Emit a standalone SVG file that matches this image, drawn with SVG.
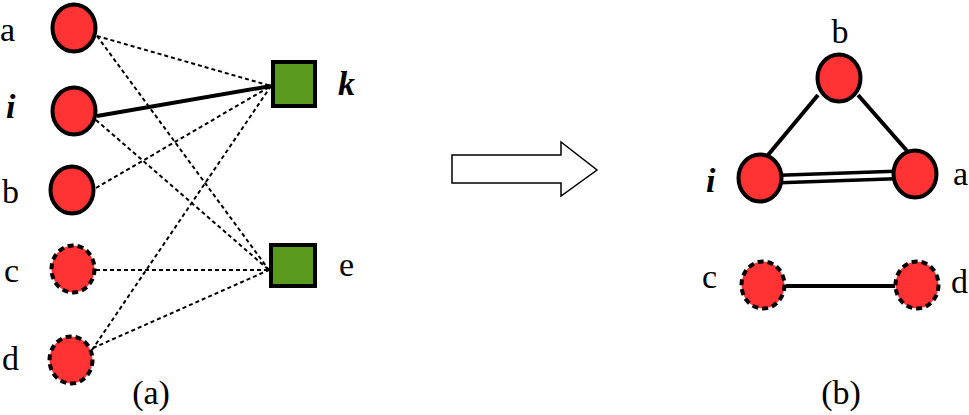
<svg xmlns="http://www.w3.org/2000/svg" width="969" height="415" viewBox="0 0 969 415">
<style>
  .lb { font-size: 34px; fill: #000; }
  .bi { font-weight: bold; font-style: italic; }
  .node { fill: #FF3333; stroke: #000; stroke-width: 4; }
  .dnode { fill: #FF3333; stroke: #000; stroke-width: 4; stroke-dasharray: 6 4; }
  .sq { fill: #58991E; stroke: #000; stroke-width: 4; }
  .dot { stroke: #000; stroke-width: 2; stroke-dasharray: 4 3; fill: none; }
  .solid { stroke: #000; stroke-width: 4; fill: none; }
</style>
<rect width="969" height="415" fill="#fff"/>
<g id="connectors">
  <line class="dot" x1="97" y1="36" x2="271" y2="86"/>
  <line class="dot" x1="97" y1="36" x2="269" y2="270"/>
  <line class="dot" x1="96" y1="120" x2="269" y2="270"/>
  <line class="dot" x1="96" y1="188" x2="271" y2="86"/>
  <line class="dot" x1="96" y1="270" x2="269" y2="270"/>
  <line class="dot" x1="92" y1="350" x2="271" y2="86"/>
  <line class="dot" x1="93" y1="348" x2="269" y2="270"/>
  <line class="solid" x1="97" y1="116" x2="271" y2="86"/>
  <line class="solid" x1="818" y1="95" x2="768" y2="155"/>
  <line class="solid" x1="858" y1="95" x2="908" y2="152"/>
  <line stroke="#000" stroke-width="11" x1="780" y1="179" x2="895" y2="175"/>
  <line stroke="#fff" stroke-width="4" x1="780" y1="179" x2="895" y2="175"/>
  <line class="solid" x1="786" y1="286" x2="895" y2="286"/>
</g>
<g id="arrow">
  <polygon points="452,155 561,155 561,142 597,170 561,196 561,183 452,183" fill="#fff" stroke="#000" stroke-width="1.5"/>
</g>
<g font-family="'Liberation Serif', 'Times New Roman', Times, 'DejaVu Serif', serif">
<g id="node-a-left"><ellipse class="node" cx="74" cy="28" rx="21.5" ry="23.5"/><text class="lb" x="0" y="41">a</text></g>
<g id="node-i-left"><ellipse class="node" cx="74" cy="111" rx="21.5" ry="23.5"/><text class="lb bi" x="6" y="118">i</text></g>
<g id="node-b-left"><ellipse class="node" cx="72" cy="190" rx="21.5" ry="23.5"/><text class="lb" x="2" y="203">b</text></g>
<g id="node-c-left"><ellipse class="dnode" cx="73" cy="269" rx="21.5" ry="23.5"/><text class="lb" x="4" y="282">c</text></g>
<g id="node-d-left"><ellipse class="dnode" cx="71" cy="360" rx="21.5" ry="23.5"/><text class="lb" x="2" y="370">d</text></g>
<g id="node-k"><rect class="sq" x="273" y="62" width="42" height="44"/><text class="lb bi" x="338" y="95">k</text></g>
<g id="node-e"><rect class="sq" x="271" y="245" width="44" height="41"/><text class="lb" x="339" y="276">e</text></g>
<g id="label-a-caption"><text class="lb" x="151" y="404" text-anchor="middle">(a)</text></g>
<g id="node-b-right"><ellipse class="node" cx="839" cy="78" rx="21.5" ry="23.5"/><text class="lb" x="840" y="43" text-anchor="middle">b</text></g>
<g id="node-i-right"><ellipse class="node" cx="760" cy="178" rx="21.5" ry="23.5"/><text class="lb bi" x="706" y="192">i</text></g>
<g id="node-a-right"><ellipse class="node" cx="915" cy="174" rx="21.5" ry="23.5"/><text class="lb" x="953" y="185">a</text></g>
<g id="node-c-right"><ellipse class="dnode" cx="763" cy="285" rx="21.5" ry="23.5"/><text class="lb" x="702" y="288">c</text></g>
<g id="node-d-right"><ellipse class="dnode" cx="917" cy="285" rx="21.5" ry="23.5"/><text class="lb" x="951" y="293">d</text></g>
<g id="label-b-caption"><text class="lb" x="841" y="404" text-anchor="middle">(b)</text></g>
</g>
</svg>
